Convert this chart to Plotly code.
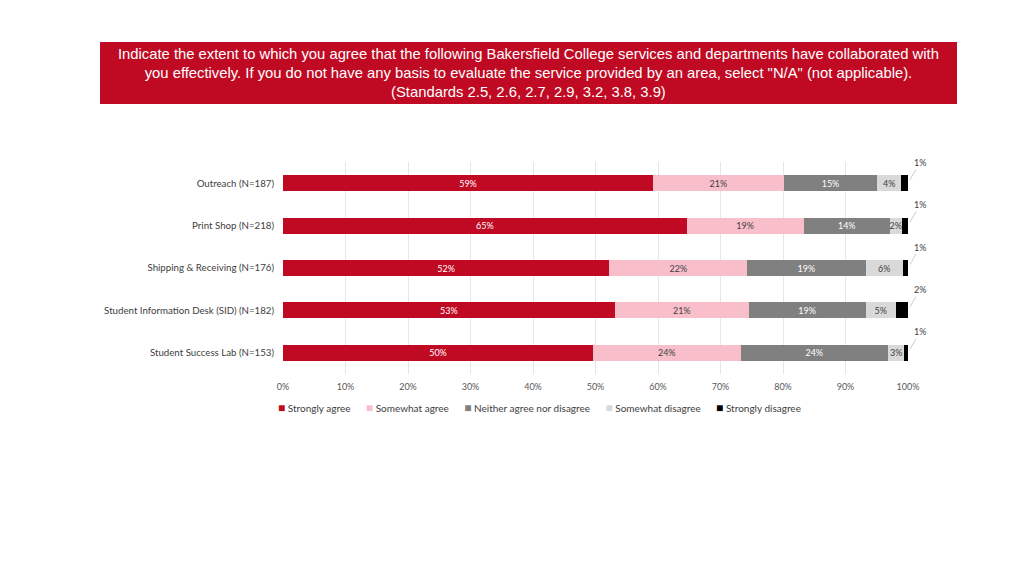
import plotly.graph_objects as go

categories = ["Outreach (N=187)", "Print Shop (N=218)", "Shipping & Receiving (N=176)",
              "Student Information Desk (SID) (N=182)", "Student Success Lab (N=153)"]
strongly_agree = [59.2, 64.6, 52.2, 53.1, 49.6]
somewhat_agree = [20.9, 18.7, 22.1, 21.4, 23.6]
neither = [15.0, 13.8, 18.9, 18.7, 23.6]
somewhat_disagree = [3.8, 1.9, 6.0, 4.9, 2.6]
strongly_disagree = [1.1, 1.0, 0.8, 1.9, 0.6]
series_names = ["Strongly agree", "Somewhat agree", "Neither agree nor disagree",
                "Somewhat disagree", "Strongly disagree"]
tick_vals = [0, 10, 20, 30, 40, 50, 60, 70, 80, 90, 100]
title_text = ("Indicate the extent to which you agree that the following Bakersfield College services and departments have collaborated with<br>"
              "you effectively. If you do not have any basis to evaluate the service provided by an area, select \"N/A\" (not applicable).<br>"
              "(Standards 2.5, 2.6, 2.7, 2.9, 3.2, 3.8, 3.9)")

colors = ["#C00A23", "#F8BFCB", "#808080", "#D9D9D9", "#000000"]
text_colors = ["#FFFFFF", "#404040", "#FFFFFF", "#404040", "#404040"]
series = [strongly_agree, somewhat_agree, neither, somewhat_disagree, strongly_disagree]

font_family = "Lato, Open Sans, sans-serif"
fig = go.Figure()
for i, (name, vals) in enumerate(zip(series_names, series)):
    fig.add_trace(go.Bar(
        y=categories, x=vals, name=name, orientation="h",
        marker=dict(color=colors[i], line=dict(width=0)),
        width=0.38,
        text=[f"{round(v):.0f}%" for v in vals] if i < 4 else None,
        texttemplate="%{text}" if i < 4 else None,
        textposition="inside" if i < 4 else "none",
        insidetextanchor="middle",
        textangle=0,
        textfont=dict(color=text_colors[i], size=9, family=font_family),
        constraintext="none",
        hoverinfo="skip",
        showlegend=False,
    ))

# leader-line labels for strongly disagree
for cat, v in zip(categories, strongly_disagree):
    fig.add_annotation(
        x=100, y=cat, xref="x", yref="y",
        text=f"{round(v):.0f}%", showarrow=True, arrowhead=0, arrowwidth=0.8,
        arrowcolor="#BFBFBF", ax=12, ay=-21, standoff=4,
        font=dict(size=9, color="#404040", family=font_family),
    )

# legend built as a single text line with coloured squares
gap = "&nbsp;" * 6
legend_text = gap.join(
    f"<span style='color:{c};font-size:12px'>■</span> {n}" for c, n in zip(colors, series_names)
)
fig.add_annotation(xref="paper", yref="paper", x=0.411, y=-0.16,
                   text=legend_text, showarrow=False, xanchor="center", yanchor="middle",
                   font=dict(size=10, color="#404040", family=font_family))

# title box
fig.add_shape(type="rect", xref="paper", yref="paper",
              x0=-0.2928, x1=1.0784, y0=1.274, y1=1.566,
              fillcolor="#C00A23", line=dict(width=0), layer="below")
fig.add_annotation(xref="paper", yref="paper", x=0.392, y=1.42,
                   text=title_text, showarrow=False, align="center",
                   xanchor="center", yanchor="middle",
                   font=dict(size=14.8, color="#FFFFFF", family="Liberation Sans, Arial, sans-serif"))

fig.update_layout(
    barmode="stack",
    width=1024, height=576,
    margin=dict(l=275, r=124, t=154, b=210),
    paper_bgcolor="#FFFFFF", plot_bgcolor="#FFFFFF",
    uniformtext=dict(mode="show", minsize=9),
    xaxis=dict(range=[0, 100], tickvals=tick_vals, ticktext=[f"{t}%" for t in tick_vals],
               showgrid=True, gridcolor="#E6E6E6", gridwidth=1, zeroline=False,
               ticklabelstandoff=6,
               tickfont=dict(size=9, color="#595959", family=font_family), ticks=""),
    yaxis=dict(range=[4.5, -0.5], showgrid=False, zeroline=False, ticks="",
               ticklabelstandoff=8,
               tickfont=dict(size=9.7, color="#404040", family=font_family)),
    showlegend=False,
)

fig.write_html("out.html")
